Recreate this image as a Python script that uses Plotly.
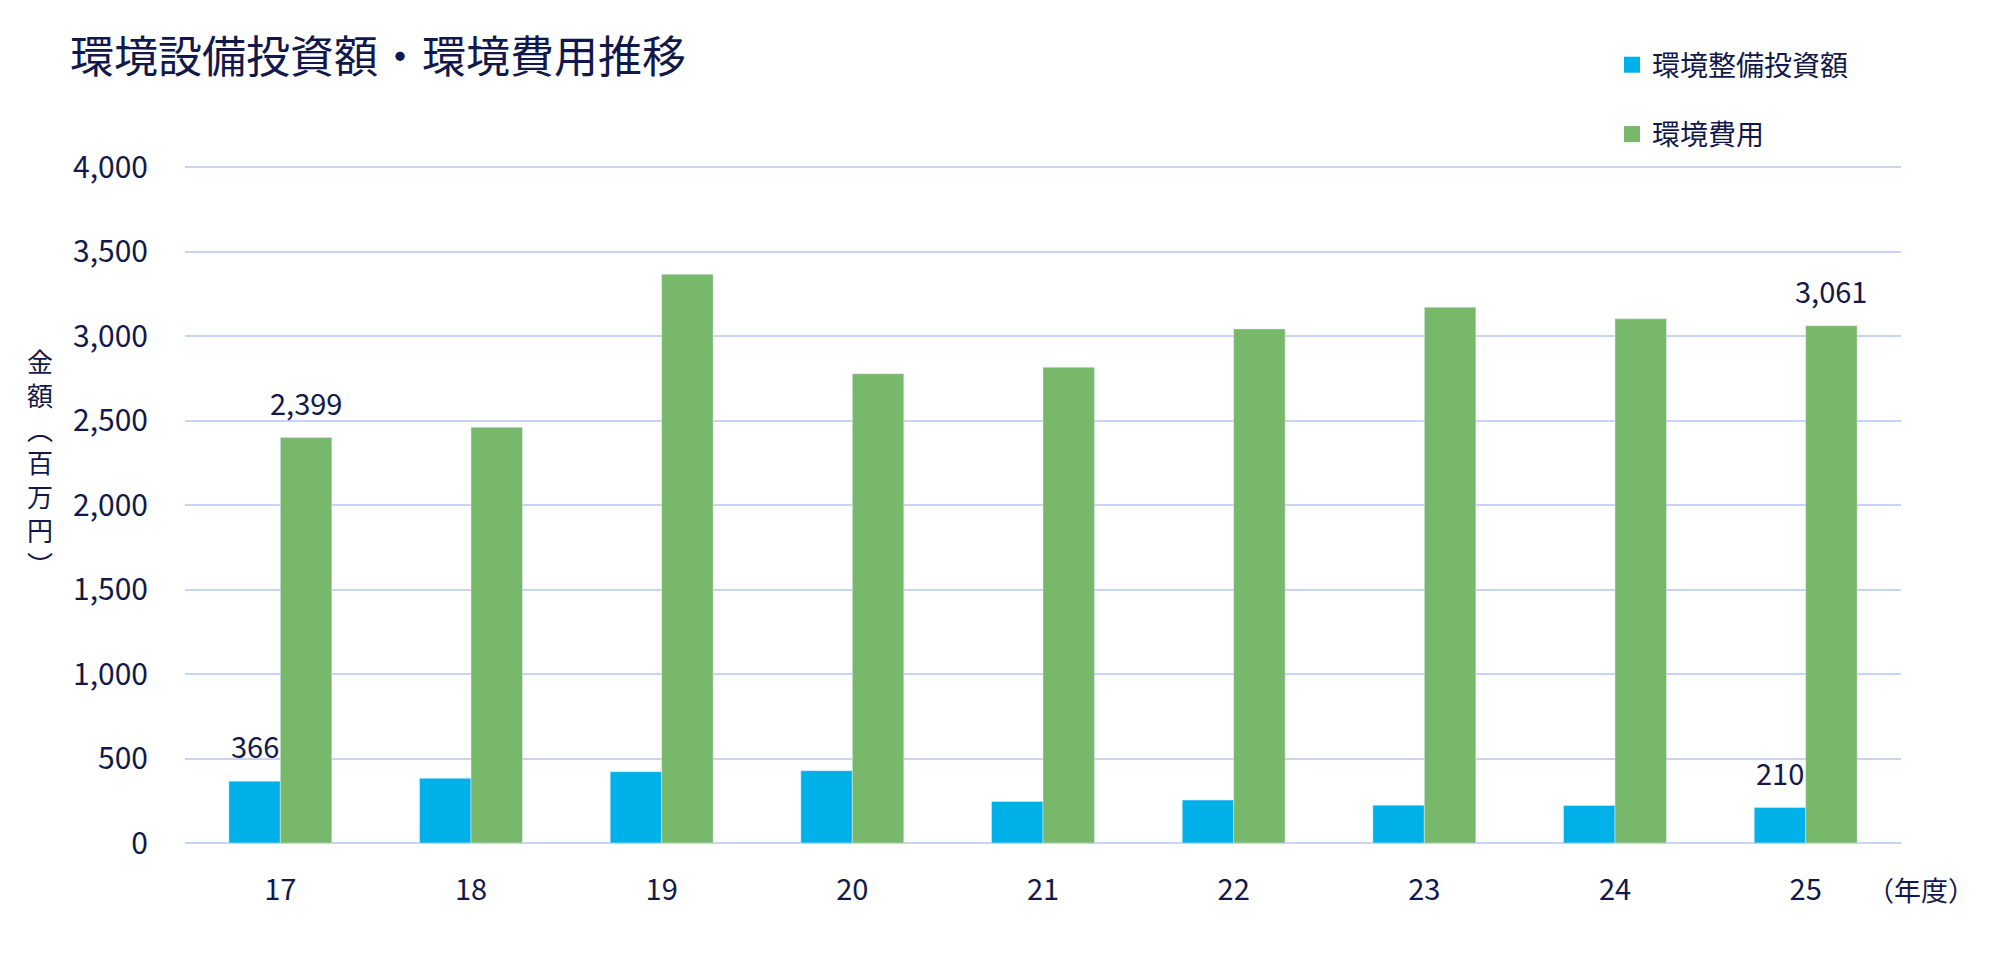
import plotly.graph_objects as go

# ---- data ----
years = ["17", "18", "19", "20", "21", "22", "23", "24", "25"]
invest = [366, 383, 422, 428, 246, 254, 224, 222, 210]
costs = [2399, 2460, 3366, 2777, 2815, 3042, 3170, 3102, 3061]
series_names = ["環境整備投資額", "環境費用"]
y_ticks = [0, 500, 1000, 1500, 2000, 2500, 3000, 3500, 4000]
labelled_idx = [0, 8]
y_title_chars = ["金", "額", "︵", "百", "万", "円", "︶"]   # vertical text: 金額（百万円）

# ---- style ----
BLUE = "#00B0E9"
GREEN = "#77B86A"
TEXT = "#12194A"
GRID = "#C8D4F4"
FONT = "Noto Sans CJK JP"
BAR_GAP = 0.46
BAR_W = (1 - BAR_GAP) / 2

W, H = 2000, 965
ML, MR, MT, MB = 185, 99, 165, 122
PW, PH = W - ML - MR, H - MT - MB
Y_TOP = 4000 * PH / (PH - 2)   # keeps the 4000 gridline 2px inside the plot area

fig = go.Figure()
fig.add_trace(go.Bar(x=years, y=invest, name=series_names[0], marker_color=BLUE,
                     showlegend=False))
fig.add_trace(go.Bar(x=years, y=costs, name=series_names[1], marker_color=GREEN,
                     showlegend=False))
# legend proxies (square markers)
for nm, col, grp in [(series_names[0], BLUE, "a"), (series_names[1], GREEN, "b")]:
    fig.add_trace(go.Scatter(x=[None], y=[None], mode="markers", name=nm,
                             legendgroup=grp,
                             marker=dict(symbol="square", size=18, color=col)))

annotations = []
for i in labelled_idx:
    for vals, off in [(invest, -BAR_W / 2), (costs, BAR_W / 2)]:
        annotations.append(dict(x=i + off, y=vals[i], xref="x", yref="y",
                                text=f"{vals[i]:,}", showarrow=False,
                                yanchor="middle", yshift=36,
                                font=dict(size=29, color=TEXT, family=FONT)))

# y axis title, stacked vertically
annotations.append(dict(x=(40 - ML) / PW, y=(H - MB - 462) / PH,
                        xref="paper", yref="paper", text="<br>".join(y_title_chars),
                        showarrow=False, xanchor="center", yanchor="middle",
                        font=dict(size=26, color=TEXT, family=FONT)))
# x unit label
annotations.append(dict(x=(1921 - ML) / PW, y=(H - MB - 889) / PH,
                        xref="paper", yref="paper", text="（年度）", showarrow=False,
                        xanchor="center", yanchor="middle",
                        font=dict(size=27, color=TEXT, family=FONT)))

fig.update_layout(
    width=W, height=H,
    margin=dict(l=ML, r=MR, t=MT, b=MB),
    paper_bgcolor="white", plot_bgcolor="white",
    barmode="group", bargap=BAR_GAP, bargroupgap=0,
    font=dict(family=FONT, color=TEXT, size=28),
    title=dict(text="環境設備投資額・環境費用推移", x=70 / W, xanchor="left",
               xref="container", y=1 - 58 / H, yanchor="middle", yref="container",
               font=dict(size=44, color=TEXT, family=FONT)),
    legend=dict(x=(1612 - ML) / PW, xanchor="left", y=1 + (MT - 40) / PH,
                yanchor="top", orientation="v", tracegroupgap=30,
                font=dict(size=28, color=TEXT, family=FONT), bgcolor="rgba(0,0,0,0)"),
    annotations=annotations,
)
fig.update_xaxes(type="category", range=[-0.5, 8.5], showgrid=False, showline=False,
                 ticks="", ticklabelstandoff=27,
                 tickfont=dict(size=29, color=TEXT, family=FONT))
fig.update_yaxes(range=[0, Y_TOP], tickvals=y_ticks, ticktext=[f"{v:,}" for v in y_ticks],
                 showgrid=True, gridcolor=GRID, gridwidth=1.5,
                 zeroline=True, zerolinecolor=GRID, zerolinewidth=2,
                 showline=False, ticks="", ticklabelstandoff=36,
                 tickfont=dict(size=30, color=TEXT, family=FONT))

fig.write_html("out.html")
